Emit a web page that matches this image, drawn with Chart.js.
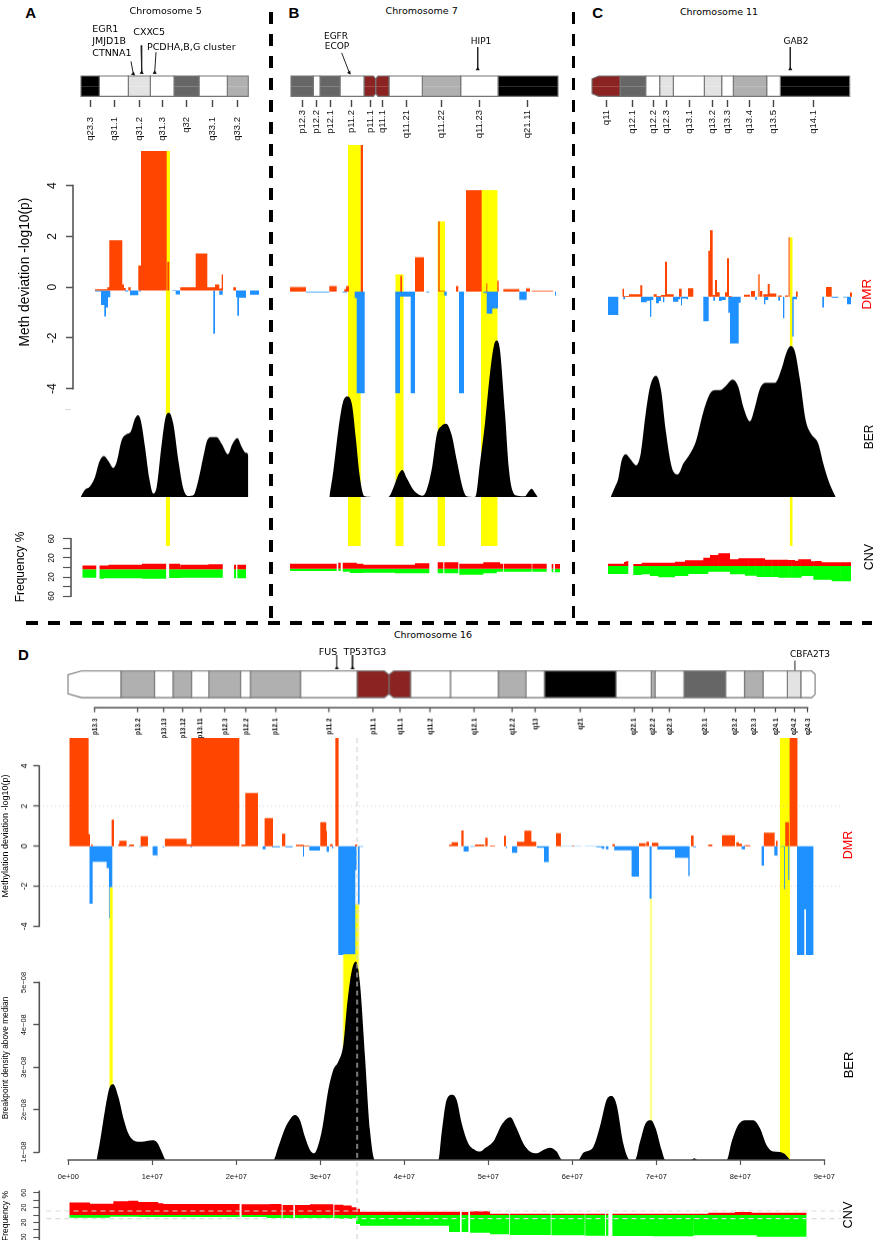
<!DOCTYPE html>
<html><head><meta charset="utf-8"><title>Chromosome panels</title>
<script src="https://cdn.jsdelivr.net/npm/chart.js@4"></script>
<style>
html,body{margin:0;padding:0;background:#fff;width:875px;height:1240px;overflow:hidden}
#page{position:relative;width:875px;height:1240px;overflow:hidden}
canvas{position:absolute;display:block}
.t{position:absolute;white-space:nowrap;line-height:1;color:#000}
.dv{position:absolute;background-repeat:repeat}
</style></head><body><div id="page"></div>
<script>
// ---------- Panel A : chromosome 5 ----------
const bandsA=[[0,18.3,'gpos100'],[18.3,47.3,'gneg'],[47.3,69.3,'gpos25'],[69.3,93,'gneg'],[93,118,'gpos75'],[118,146.3,'gneg'],[146.3,167.3,'gpos50']];
const cytoPosA=[9.3,33.3,58.3,81.3,105.3,131.7,156.3];
const cytoNamesA=['q23.3','q31.1','q31.2','q31.3','q32','q33.1','q33.2'];
const genesA=[[50,2.43,52.3,1.2],[60,4,60.7,1.33],[75,3.33,73.7,1.33]];
const dmrGainA=[[14,26.3,-0.08],[26.3,28.3,0],[28.3,41.3,1.85],[41.3,43,0.1],[43,44.7,-0.03],[47.3,49.7,0],[57.3,60,0.85],[60,85.7,5.37],[86.3,88.3,1],[99.3,114.7,0],[114.7,126.3,1.33],[126.3,134,0],[134,138.3,0.1],[138.3,140.7,-0.05],[140.7,142,0.5],[152.3,155,0]];
const dmrLossA=[[14,20,-0.17],[20,23.3,-0.7],[23.3,25,-1.16],[25,27,-0.8],[27,29.3,-0.4],[44,47.3,-0.17],[49,57.3,-0.32],[58,60,-0.17],[91.3,94.7,-0.15],[94.7,99,-0.29],[132.3,134,-1.84],[138.3,141.7,-0.3],[155,156.3,-0.4],[156.3,158,-1.13],[158,165,-0.42],[169,178,-0.3]];
const hotspotA=[[84.7,89,5.37]];
const berA=[[-0.3,0],[4,7.3],[9,10.7],[14,20],[18.3,35],[23,40.7],[27.3,36],[32.3,29],[35.7,35],[40.7,56.7],[45,62.3],[49.7,65],[54,78],[57,81.7],[59.7,76.7],[64,50],[68.3,18.3],[72.3,3.3],[75.7,10],[80.7,53],[84.7,80],[88,84],[92.3,73],[97.3,36.7],[102.3,8.3],[107.3,1],[112.3,1.7],[117.3,16.7],[122.3,40],[126.3,56.7],[130.7,59.7],[135.7,59.7],[140.7,53],[147,42.7],[151.3,52.7],[156.3,58.7],[160.7,50],[165,44],[167.3,41.7],[167.31,0]];
const cnvGainA=[[1,15,4.2],[18.3,27.3,4.2],[27.3,44,5.6],[44,60.7,6],[60.7,85,7.7],[88,99,7.7],[99.7,127.3,5.6],[127.3,141.7,7],[153,155,5.6],[156.3,165,5.6]];
const cnvLossA=[[1,15,-21.7],[18.3,23,-23.8],[23,60.7,-22.5],[60.7,85,-23.8],[88,99,-22],[99.7,141.7,-21.7],[153,155,-22.5],[156.3,165,-22.5]];

// ---------- Panel B : chromosome 7 ----------
const bandsB=[[0,22.3,'gpos75'],[22.3,29,'gneg'],[29,49,'gpos75'],[49,73,'gneg'],[73,84.7,'acen','notchR'],[84.7,98,'acen','notchL'],[98,131.3,'gneg'],[131.3,169.7,'gpos50'],[169.7,207,'gneg'],[207,267,'gpos100']];
const cytoPosB=[11.7,25.7,39,60.7,79,91.3,115,150.7,188.3,236.3];
const cytoNamesB=['p12.3','p12.2','p12.1','p11.2','p11.1','q11.1','q11.21','q11.22','q11.23','q21.11'];
const genesB=[[50.7,3.27,58.3,1.33],[186.7,3.83,186.7,1.67]];
const dmrGainB=[[-1,15,0.18],[38.3,45.7,0.22],[53.3,55,0.1],[55,58,0.22],[69.7,72,5.76],[109.3,111,0.62],[124,133,1.35],[147.3,148.7,2.76],[148.7,154,0.03],[165,167.3,0.22],[175,190.7,3.99],[195.3,196.3,0.33],[206.3,207.7,0.42],[212.3,228.3,0.1],[235,239,0.13],[240.7,262.3,0.03]];
const dmrLossB=[[15,38.3,-0.03],[51.3,56,-0.03],[63.7,65.7,-0.26],[65.7,73.7,-4],[104.3,109,-4],[109,119.7,-0.2],[119.7,124,-4],[135,138.3,-0.03],[153.3,155.7,-0.16],[168,173,-4],[192.3,195.7,-0.05],[195.7,201.3,-0.87],[201.3,207,-0.66],[228.3,235.7,-0.33],[264,265,-0.15]];
const hotspotB=[[57,69.7,5.76],[104.5,112.5,0.68],[146.7,154,2.76],[190,206.7,3.99]];
const berB=[[38.3,0],[42.3,25.7],[47.3,67],[51.7,94],[56,100.7],[60.7,94],[65,57],[68.3,24],[71.7,4],[74,0.7],[82.3,0],[97.3,0],[102.3,9],[107.3,22.3],[111.3,27],[115.7,19],[122.3,7.3],[128,2.3],[131.7,1.3],[135.7,7.3],[141.3,30.7],[145.7,62],[150.7,71.3],[155,73.3],[160.7,62],[165.7,37],[171.7,9],[175.7,0.7],[183,0],[184.7,0.7],[189,34],[194,74],[199,124],[203,152],[205.7,156.7],[209,147],[214,84],[218,27],[221.7,5.7],[226.3,1.3],[234,0.7],[237.3,5],[240.7,8.3],[244,4],[246.7,0]];
const cnvGainB=[[-1,45.7,10.5],[47.3,49.7,12.6],[51.7,65.7,12.6],[65.7,72.3,10.5],[72.3,124,8.4],[124,138.3,11.2],[146.7,152.3,13.3],[153.3,167.3,13.3],[168.3,192.3,10.5],[192.3,209,13.3],[209,212.3,10.5],[213,240.7,10.5],[241.3,255.7,10.5],[260.7,262.3,9.8],[264,269,9.8]];
const cnvLossB=[[-1,45.7,-4.9],[47.3,49.7,-4.9],[51.7,59,-6.3],[59,72.3,-9.1],[72.3,104,-8.4],[104,138.3,-9.8],[146.7,152.3,-9.8],[153.3,167.3,-9.8],[168.3,192.3,-12.6],[192.3,205.7,-9.8],[205.7,212.3,-6.3],[213,240.7,-6.3],[241.3,255.7,-6.3],[260.7,262.3,-7.7],[264,269,-7.7]];

// ---------- Panel C : chromosome 11 ----------
const bandsC=[[0,28,'acen','telL'],[28,53.7,'gpos75'],[53.7,67.7,'gneg'],[67.7,81.3,'gpos25'],[81.3,112.3,'gneg'],[112.3,129.7,'gpos25'],[129.7,141.3,'gneg'],[141.3,174.7,'gpos50'],[174.7,188.3,'gneg'],[188.3,257.7,'gpos100']];
const cytoPosC=[14.7,40.7,61,74,97,120.3,135,157.7,181.7,221.7];
const cytoNamesC=['q11','q12.1','q12.2','q12.3','q13.1','q13.2','q13.3','q13.4','q13.5','q14.1'];
const genesC=[[198.3,3.83,198.3,1.67]];
const dmrGainC=[[30.3,32,0.31],[32,37,0.03],[37,48.3,0.1],[48.3,50.3,0.45],[61.7,64.7,0.1],[64.7,69,0.03],[69,73,0.07],[73,75,1.38],[75,81.7,0.1],[87,89.7,0.31],[96,101.3,0.33],[116.3,118,1.81],[118,120.7,2.62],[120.7,123,0.07],[123,125,0.66],[125,127.7,0.18],[133,135,0.18],[135,137,1.51],[137,139.7,0.03],[152,158,0.08],[159,163,0.22],[168,170.3,0.22],[171.3,175.7,0.1],[175.7,177.7,0.5],[177.7,184.3,0.13],[186.3,189.7,0.05],[193,196.3,0.05],[204,205.7,0.2],[234,239.7,0.38],[258,260,0.17]];
const dmrFadedC=[[165.7,168,0.88],[196.3,198.3,2.34]];
const dmrLossC=[[16,26.3,-0.72],[31.3,33,-0.1],[49,54.7,-0.22],[54.7,58,-0.16],[58,59.3,-0.79],[59.3,61.3,-0.13],[64,67,-0.26],[67,69,-0.17],[71,72.3,-0.22],[81,86.3,-0.2],[86.3,88.3,-0.1],[89,90,-0.35],[90,94.7,-0.07],[94.7,96,-0.1],[111.3,116.7,-0.97],[121.3,123,-0.16],[127,129.7,-0.17],[129.7,133.7,-0.13],[136.3,138,-0.63],[138,146.7,-1.84],[146.7,148.7,-0.24],[163.3,164.7,-0.13],[172,173.3,-0.3],[173.3,176.3,-0.13],[186.3,188,-0.16],[191,192.3,-0.85],[200.3,201.7,-1.57],[201.7,205,-0.1],[230.3,232,-0.43],[239.7,246.3,-0.04],[251.3,254.7,-0.03],[255,259,-0.3]];
const hotspotC=[[197.7,200.7,2.34]];
const berC=[[18.7,0],[23,10],[26.3,18.3],[29.7,36.7],[34,42.7],[38,38.3],[44,31.7],[48.7,43.3],[53.7,83.3],[58,110],[64,121],[69,106.7],[73.7,66.7],[79.7,30],[86,22.7],[91.3,33.3],[98,43.3],[103.7,55],[111.3,85],[118,103.3],[123,106.7],[128,106.7],[133,110],[140.7,117.3],[146.3,110],[151.3,90],[158,75.7],[163,90],[168,108.3],[173.7,114],[183,114],[189.7,128.3],[194.7,145],[198.7,150.7],[203,145],[208,116.7],[213.7,76.7],[219,63.3],[226.3,53.3],[231.3,33.3],[236.3,16.7],[239.7,8.3],[243.7,0]];
const cnvGainC=[[16,32,4.9],[32,33.7,8.4],[33.7,36.3,9.8],[41.3,49.7,4.2],[49.7,71.3,7],[71.3,83,7],[83,93,9],[93,111.3,12],[111.3,118,17.5],[118,126.3,23],[126.3,138,26.6],[138,146.3,14],[146.3,173,16],[173,196.3,13.3],[196.3,203,12.6],[203,206.3,11.2],[206.3,219,14],[219,223,9.8],[223,229.7,10.5],[229.7,259,7.7]];
const cnvLossC=[[16,36.3,-16.8],[41.3,49.7,-18.9],[49.7,58,-17.5],[58,66.3,-21],[66.3,83,-23.8],[83,96.3,-21],[96.3,116.3,-16.8],[116.3,138,-11.9],[138,153,-17.5],[153,164.7,-20.3],[164.7,186.3,-23],[186.3,209.7,-24.5],[209.7,221.3,-21],[221.3,239.7,-28.7],[239.7,259,-32.2]];
const cnvBreaksC=[126.3,156.3,163,171.3,179.7,186.3,196.3,199.7,208,221.3,248];

// ---------- Panel D : chromosome 16 (x in Mb) ----------
const bandsD=[[0,6.3,'gneg','telL'],[6.3,10.3,'gpos50'],[10.3,12.5,'gneg'],[12.5,14.7,'gpos50'],[14.7,16.75,'gneg'],[16.75,20.55,'gpos50'],[20.55,21.7,'gneg'],[21.7,27.66,'gpos50'],[27.66,34.4,'gneg'],[34.4,38.2,'acen','notchR'],[38.2,40.75,'acen','notchL'],[40.75,45.5,'gneg'],[45.5,51.2,'gneg'],[51.2,54.5,'gpos50'],[54.5,56.7,'gneg'],[56.7,65.2,'gpos100'],[65.2,69.4,'gneg'],[69.4,69.85,'gpos50'],[69.85,73.3,'gneg'],[73.3,78.25,'gpos75'],[78.25,80.5,'gneg'],[80.5,82.7,'gpos50'],[82.7,85.6,'gneg'],[85.6,87.2,'gpos25'],[87.2,88.9,'gneg','telR']];
const cytoPosD=[3.17,8.33,11.43,13.65,15.75,18.65,21.15,24.68,31.03,36.31,39.48,43.1,48.33,52.86,55.6,60.95,67.34,69.56,71.55,75.71,79.37,81.63,84.17,86.39,88];
const cytoNamesD=['p13.3','p13.2','p13.13','p13.12','p13.11','p12.3','p12.2','p12.1','p11.2','p11.1','q11.1','q11.2','q12.1','q12.2','q13','q21','q22.1','q22.2','q22.3','q23.1','q23.2','q23.3','q24.1','q24.2','q24.3'];
const genesD=[[31.99,2.19,31.99,1.22],[33.86,2.19,33.86,1.22]];
const geneTickD=[[86.5,1.77,86.5,1.03]];
const dmrGainD=[[0.12,2.42,5.4],[2.42,2.58,0.6],[2.74,2.9,0.1],[5.16,5.44,1.33],[5.95,6.07,0.1],[6.07,6.94,0.27],[7.26,7.82,0.08],[8.61,9.48,0.5],[11.5,14.09,0.37],[14.09,14.64,0.1],[14.64,20.36,5.4],[20.6,21.07,0.08],[21.07,22.58,2.65],[23.37,24.37,1.4],[25.44,25.83,0.62],[27.1,28.06,0.07],[28.06,28.7,0.03],[30,30.71,1.2],[30.71,30.8,0.75],[31.15,31.47,0.1],[31.79,32.18,5.4],[34.13,34.4,0.08],[45.32,45.63,0.07],[45.63,46.39,0.2],[46.79,47.06,0.78],[48.41,49.52,0.08],[49.64,49.92,0.42],[50.2,50.8,0.03],[51.87,52.1,0.52],[53.41,54.29,0.22],[54.29,55.13,0.77],[55.13,55.71,0.22],[58.06,58.65,0.65],[60,60.2,0.03],[64.76,65.08,0.1],[67.94,68.73,0.15],[68.81,69.13,0.22],[69.48,70.24,0.17],[74.13,74.44,0.53],[76.19,76.67,0.08],[77.82,79.37,0.55],[79.52,79.84,0.2],[79.84,80.2,0.12],[80.5,81.2,0.05],[82.8,84.09,0.67],[84.25,84.44,0.27],[85.35,85.79,1.2],[85.87,86.83,5.4]];
const dmrLossD=[[2.5,2.9,-2.87],[2.9,4.56,-0.78],[4.56,4.84,-1.1],[4.84,4.92,-3.6],[4.92,5.24,-2.05],[7.06,7.34,-0.03],[8.4,8.9,-0.03],[10.04,10.6,-0.45],[10.6,10.67,-0.67],[11.23,11.39,-0.05],[14.56,14.72,-0.05],[23.13,23.49,-0.15],[24.25,25.2,-0.05],[25.83,26.7,-0.05],[27.94,28.06,-0.52],[28.69,29.96,-0.22],[30.75,31.03,-0.28],[31.4,31.55,-0.1],[32.14,32.74,-5.43],[32.74,34.17,-5.4],[34.17,34.33,-1.2],[34.48,34.68,-2.9],[34.68,35.1,-0.03],[47.06,47.66,-0.27],[47.83,48.41,-0.03],[52.1,52.2,-0.1],[52.82,53.45,-0.33],[55.79,56.63,-0.08],[56.63,57.2,-0.8],[58.65,61.1,-0.02],[61.5,62.86,-0.02],[62.86,63.49,-0.05],[63.49,63.81,-0.13],[64,64.3,-0.15],[64.99,67.06,-0.2],[67.06,67.94,-1.52],[69.2,69.44,-2.62],[70.12,70.71,-0.17],[70.71,72.22,-0.17],[72.22,73.81,-0.58],[73.81,73.97,-1.5],[74.4,74.72,-0.05],[80.16,80.56,-0.15],[82.54,82.82,-0.97],[84.05,84.4,-0.47],[84.4,84.48,-0.65],[84.72,85.2,-0.03],[85.2,85.3,-2.15],[85.71,85.83,-1.68],[86.75,87.62,-5.43],[87.62,87.82,-3.15],[87.82,88.73,-5.43]];
const hotspotD=[[4.92,5.32,-2.05],[32.74,34.6,-2.9],[84.72,85.91,5.4]];
const hotspotFadedD=[[69.25,69.49,-2.62]];
const berD=[[3.37,0.81],[3.77,1.24],[4.37,1.99],[4.88,2.5],[5.36,2.6],[5.95,2.31],[6.63,1.75],[7.14,1.44],[7.74,1.28],[8.73,1.24],[9.33,1.26],[10.04,1.28],[10.6,1.22],[11.11,1.01],[11.63,0.81],[24.4,0.81],[25,1.12],[25.8,1.56],[26.47,1.79],[26.98,1.87],[27.58,1.75],[28.17,1.36],[28.77,1.05],[29.25,0.97],[29.64,1.09],[30.28,1.6],[30.95,2.46],[31.55,2.94],[32.14,3.13],[32.74,3.53],[33.21,4.51],[33.73,5.26],[34.25,5.49],[34.72,4.98],[35.32,3.25],[35.91,1.52],[36.5,0.81],[43.93,0.81],[44.05,0.81],[44.44,1.44],[45.04,2.23],[45.71,2.35],[46.23,2.23],[46.83,1.68],[47.62,1.2],[48.41,1.05],[49,1.01],[49.6,1.09],[50.71,1.28],[51.59,1.64],[52.62,1.82],[53.37,1.56],[54.17,1.2],[54.96,1.01],[55.75,0.97],[56.55,1.05],[57.35,1.1],[58.13,1.01],[58.81,0.81],[60.71,0.81],[61.31,0.98],[62.5,1.12],[63.29,1.6],[64.09,2.23],[64.68,2.32],[65.28,2.11],[66.07,1.2],[66.87,0.81],[67.46,0.81],[68.06,1.24],[68.73,1.68],[69.37,1.75],[69.92,1.56],[70.63,1.05],[71.1,0.81],[74.13,0.81],[74.52,0.85],[74.92,0.81],[78.37,0.81],[78.97,1.24],[79.76,1.64],[80.56,1.75],[81.55,1.75],[82.34,1.56],[83.13,1.16],[83.93,1.01],[84.72,1],[85.3,0.95],[85.91,0.81]];
const cnvGainD=[[0.12,2.58,34],[2.58,5.36,30.6],[5.36,7.14,37],[7.14,8.33,38.7],[8.33,10.71,35],[10.71,11.31,31.5],[11.31,20.63,29.7],[20.63,24,28.8],[24,25.4,29.7],[25.4,28.77,27],[28.77,31.55,28.8],[31.55,32.74,27.9],[32.74,33.73,26],[33.73,34.33,20.7],[34.33,34.72,17],[34.72,46.63,8.5],[46.63,47.62,8],[47.62,50.2,10],[50.2,76.19,3.6],[76.19,79.37,6.3],[79.37,81.35,8],[81.35,87.9,6.3]];
const cnvLossD=[[0.12,4.96,-7.2],[4.96,8.41,-4.5],[8.41,23.61,-5.4],[23.61,31.55,-8.1],[31.55,34.25,-9.9],[34.25,34.72,-24.3],[34.72,45.32,-28.8],[45.32,47.83,-46],[47.83,50.2,-47.7],[50.2,52.58,-52],[52.58,57.54,-54],[57.54,61.55,-55],[61.55,64.8,-56],[64.8,69.6,-56.7],[69.6,74.48,-57.6],[74.48,81.96,-55],[81.96,87.9,-58.5]];
const cnvGapsD=[[20.36,20.63],[25.4,25.52],[26.79,26.98],[31.55,31.67],[46.63,46.83],[47.62,47.83],[63.89,64],[64.29,64.8]];
const cnvThinGapsD=[[5.36,5.44],[8.33,8.41],[52.46,52.58],[57.43,57.54],[61.47,61.55],[69.52,69.6],[74.4,74.48]];
const axisTicksDmr=[4,2,0,-2,-4];
const axisTicksCnv=[60,40,20,0,-20,-40,-60];
const axisTicksBerD=[1,2,3,4,5];
const axisTicksMb=[0,10,20,30,40,50,60,70,80,90];
const breakpointGuideMb=[34.4];
const significanceLines=[2,-2];
const cnvGuideLines=[10.8,-9.9];

// ---------- helpers ----------
const SANS='"Liberation Sans",Arial,sans-serif', DV='"DejaVu Sans",sans-serif';
const RED='#FF4500',BLUE='#1E90FF',YEL='#FFFF00',AXC='#555';
const STAIN={gneg:'#ffffff',gpos25:'#e3e3e3',gpos50:'#b0b0b0',gpos75:'#666666',gpos100:'#000000',acen:'#8B2323'};
Chart.defaults.animation=false;
const page=document.getElementById('page');

const steps=(segs,base)=>{const p=[];segs.forEach(([a,b,v])=>{p.push({x:a,y:base},{x:a,y:v},{x:b,y:v},{x:b,y:base});});return p;};
const curve=a=>a.map(([x,y])=>({x,y}));
const area=(pts,color,fill)=>({data:pts,backgroundColor:color,borderColor:'transparent',borderWidth:0,pointRadius:0,fill,tension:0});

function chart(o){
  const ml=o.ml||0,mr=o.mr||0,mt=o.mt||0,mb=o.mb||0;
  const c=document.createElement('canvas');
  const W=Math.round((o.r-o.l+ml+mr)*100)/100,H=Math.round((o.b-o.t+mt+mb)*100)/100;
  c.width=W;c.height=H;c.style.width=W+'px';c.style.height=H+'px';
  c.style.left=(o.l-ml)+'px';c.style.top=(o.t-mt)+'px';
  page.appendChild(c);
  const xmin=(o.l-o.ox)/o.kx,xmax=(o.r-o.ox)/o.kx,ymax=(o.oy-o.t)/o.ky,ymin=(o.oy-o.b)/o.ky;
  const ds=(o.ds||(()=>[]))(xmin,xmax,ymin,ymax);
  if(o.ySpine) ds.unshift({data:[{x:xmin,y:o.ySpine[0]},{x:xmin,y:o.ySpine[1]}],borderColor:AXC,borderWidth:o.spineW||1.6,pointRadius:0,fill:false,clip:false,borderCapStyle:'square'});
  if(o.xSpine) ds.unshift({data:[{x:o.xSpine[0],y:ymin},{x:o.xSpine[1],y:ymin}],borderColor:AXC,borderWidth:o.spineW||1.6,pointRadius:0,fill:false,clip:false,borderCapStyle:'square'});
  const scales={
    x:{type:'linear',min:xmin,max:xmax,display:false},
    y:{type:'linear',min:ymin,max:ymax,display:false}
  };
  if(o.xAxis){const a=o.xAxis;scales.x={type:'linear',min:xmin,max:xmax,position:'bottom',display:true,
    border:{display:false},
    grid:{drawOnChartArea:false,drawTicks:true,tickLength:a.len,tickColor:a.color||AXC,tickWidth:a.w||1.3},
    ticks:{autoSkip:false,maxRotation:a.rot||0,minRotation:a.rot||0,padding:a.pad,labelOffset:a.off||0,color:a.tc||'#111',
      font:{family:SANS,size:a.size,weight:a.weight||'normal'},callback:a.fmt},
    afterBuildTicks:s=>{s.ticks=a.at.map(v=>({value:v}));},
    afterFit:s=>{s.height=mb;s.paddingLeft=s.paddingRight=s.paddingTop=s.paddingBottom=0;}};}
  if(o.yAxis){const a=o.yAxis;scales.y={type:'linear',min:ymin,max:ymax,position:'left',display:true,
    border:{display:false},
    grid:{drawOnChartArea:false,drawTicks:true,tickLength:a.len,tickColor:a.color||AXC,tickWidth:a.w||1.3},
    ticks:{autoSkip:false,maxRotation:90,minRotation:90,crossAlign:'center',padding:a.pad,color:'#111',
      font:{family:SANS,size:a.size,weight:a.weight||'normal'},callback:a.fmt},
    afterBuildTicks:s=>{s.ticks=a.at.map(v=>({value:v}));},
    afterFit:s=>{s.width=ml;s.paddingLeft=s.paddingRight=s.paddingTop=s.paddingBottom=0;}};}
  new Chart(c,{type:'line',data:{datasets:ds},options:{responsive:false,maintainAspectRatio:false,animation:false,events:[],
    devicePixelRatio:1,
    layout:{autoPadding:false,padding:{left:o.yAxis?0:ml,right:mr,top:mt,bottom:o.xAxis?0:mb}},
    plugins:{legend:{display:false},tooltip:{enabled:false},title:{display:false}},
    scales}});
}

function ideogramSets(bands,arrows,kx,ky,chamfer){
  const sets=[];
  (arrows.heads||[]).forEach(([x0,y0,x1,y1])=>{
    const rot=Math.atan2((x1-x0)*kx,(y0-y1)*ky)*180/Math.PI;
    sets.push({data:[{x:x0,y:y0},{x:x1,y:y1}],borderColor:'#222',borderWidth:1,pointRadius:[0,2.4],pointStyle:'triangle',pointRotation:rot,pointBackgroundColor:'#111',pointBorderWidth:0,fill:false});
  });
  (arrows.plain||[]).forEach(([x0,y0,x1,y1])=>{
    sets.push({data:[{x:x0,y:y0},{x:x1,y:y1}],borderColor:'#444',borderWidth:1.2,pointRadius:0,fill:false});
  });
  bands.forEach(([a,b,stain,shape])=>{
    [1,-1].forEach(s=>{
      let top;
      if(shape==='telL') top=[[a,0],[a,0.72*s],[a+chamfer,s],[b,s],[b,0]];
      else if(shape==='telR') top=[[a,0],[a,s],[b-chamfer/4,s],[b,0.75*s],[b,0]];
      else if(shape==='notchR') top=[[a,0],[a,s],[b-chamfer/3,s],[b,0.72*s],[b,0]];
      else if(shape==='notchL') top=[[a,0],[a,0.72*s],[a+chamfer/3,s],[b,s],[b,0]];
      else top=[[a,0],[a,s],[b,s],[b,0]];
      sets.push({data:top.map(([x,y])=>({x,y})),backgroundColor:STAIN[stain],borderColor:'#777',borderWidth:1.1,pointRadius:0,fill:'origin',tension:0});
    });
  });
  return sets;
}
const cytoAxis=(pos,names,pad,size,off,extra)=>Object.assign({at:pos,len:7,rot:90,pad,size,off,color:'#444',w:1.4,tc:'#111',
  fmt:v=>names[pos.indexOf(v)]},extra||{});

function topPanel(p){
  // highlighted region, drawn behind everything else
  chart({l:p.l,r:p.r,t:p.yt,b:545.7,ox:p.ox,kx:1,oy:p.oy,ky:25.4,
    ds:(a,b,ymin)=>[area(steps(p.hot,ymin),YEL,'start')]});
  // breakpoint density
  chart({l:p.berL||p.l,r:p.r,t:p.berT||400,b:p.berB,ox:p.ox,kx:1,oy:p.berB,ky:1,ml:p.berAxis?10:0,
    yAxis:p.berAxis,
    ds:()=>[Object.assign(area(curve(p.ber),'#000','start'),{cubicInterpolationMode:'monotone'})]});
  // methylation deviation
  chart({l:p.l,r:p.r,t:p.yt,b:p.yb,ox:p.ox,kx:1,oy:p.oy,ky:25.4,ml:p.dmrAxis?73:0,mb:p.dmrAxis?12:0,yAxis:p.dmrAxis,ySpine:p.dmrAxis?[-4,4]:null,
    ds:()=>{const s=[];if(p.faded)s.push(area(steps(p.faded,p.base),'#FF8A4D',{value:p.base}));
      s.push(area(steps(p.gain,p.base),RED,{value:p.base}),area(steps(p.loss,p.base),BLUE,{value:p.base}));return s;}});
  // copy number
  chart({l:p.cnvL||p.l,r:p.r,t:p.ct,b:p.cb,ox:p.ox,kx:1,oy:p.co,ky:0.477,ml:p.cnvAxis?71:0,mt:p.cnvAxis?10:0,mb:p.cnvAxis?10:0,yAxis:p.cnvAxis,ySpine:p.cnvAxis?[-60,60]:null,
    ds:()=>{const s=[];(p.breaks||[]).forEach(x=>s.push(area(steps([[x,x+0.5,60]],-60),'rgba(255,255,255,0.65)','start')));
      s.push(area(steps(p.cgain,p.cbase),'#FF0000',{value:p.cbase}),area(steps(p.closs,p.cbase),'#00FF00',{value:p.cbase}));return s;}});
  // ideogram
  chart({l:p.l,r:p.r,t:44,b:100,ox:p.ox,kx:1,oy:86.2,ky:10.2,mb:45,
    xAxis:cytoAxis(p.cytoPos,p.cytoNames,p.cytoPad,9.5,0),
    ds:()=>ideogramSets(p.bands,{heads:p.genes},1,10.2,6.7)});
}

// ---------- panels ----------
topPanel({l:73,r:262,ox:81,oy:287.3,yt:151,yb:389.3,base:-0.13,hot:hotspotA,gain:dmrGainA,loss:dmrLossA,ber:berA,
  berL:71,berT:409,berB:496.7,
  berAxis:{at:[87.7],len:6,pad:0,size:1,fmt:()=>'',w:1.4},
  dmrAxis:{at:axisTicksDmr,len:7,pad:8,size:12,fmt:v=>String(v),w:1.5},
  cgain:cnvGainA,closs:cnvLossA,cnvL:70.7,ct:538.7,cb:595.7,co:567.2,cbase:-3.5,
  cnvAxis:{at:axisTicksCnv,len:8,pad:7,size:8.5,fmt:v=>(Math.abs(v)===60||Math.abs(v)===20)?String(Math.abs(v)):'',w:1.2},
  bands:bandsA,cytoPos:cytoPosA,cytoNames:cytoNamesA,cytoPad:10,genes:genesA});
topPanel({l:285,r:566,ox:291,oy:291.7,yt:145.3,yb:400,base:0,hot:hotspotB,gain:dmrGainB,loss:dmrLossB,ber:berB,berT:330,berB:497.3,
  cgain:cnvGainB,closs:cnvLossB,ct:550,cb:590,co:568.7,cbase:0,
  bands:bandsB,cytoPos:cytoPosB,cytoNames:cytoNamesB,cytoPad:3,genes:genesB});
topPanel({l:590,r:862,ox:592,oy:296.7,yt:225,yb:360,base:0,hot:hotspotC,gain:dmrGainC,faded:dmrFadedC,loss:dmrLossC,ber:berC,berT:340,berB:496.7,
  cgain:cnvGainC,closs:cnvLossC,ct:545,cb:590,co:566,cbase:0,breaks:cnvBreaksC,
  bands:bandsC,cytoPos:cytoPosC,cytoNames:cytoNamesC,cytoPad:3,genes:genesC});

// Panel D
const D={l:39.3,r:850,ox:68.3,kx:8.4};
chart(Object.assign({},D,{t:738.3,b:1160,oy:846.3,ky:20,
  ds:(a,b,ymin)=>[area(steps(hotspotFadedD,ymin),'#FFFF66','start'),area(steps(hotspotD,ymin),YEL,'start')]}));
chart(Object.assign({},D,{t:958,b:1160,oy:1194.4,ky:42.4,ml:39.3,mb:30,
  yAxis:{at:axisTicksBerD,len:6,pad:-1,size:7.5,fmt:v=>v+'e\u221208',w:1.4},
  xAxis:{at:axisTicksMb,len:5,pad:7,size:7.5,w:1.2,fmt:v=>v===0?'0e+00':(v/10)+'e+07'},
  ySpine:[1,5],xSpine:[0,90],
  ds:()=>[Object.assign(area(curve(berD),'#000','start'),{cubicInterpolationMode:'monotone'})]}));
chart(Object.assign({},D,{t:738.3,b:960,oy:846.3,ky:20,ml:39.3,
  yAxis:{at:axisTicksDmr,len:6,pad:5,size:8.5,fmt:v=>String(v),w:1.4},ySpine:[-4,4],
  ds:(a,b)=>{const s=[area(steps(dmrGainD,0),RED,'origin'),area(steps(dmrLossD,0),BLUE,'origin')];
    significanceLines.forEach(v=>s.push({data:[{x:-3,y:v},{x:92,y:v}],borderColor:'#cfcfcf',borderWidth:1,borderDash:[1,3],pointRadius:0,fill:false}));return s;}}));
chart(Object.assign({},D,{t:1190,b:1240,oy:1215,ky:0.37,ml:39.3,mt:6,
  yAxis:{at:axisTicksCnv,len:6,pad:5,size:7,fmt:v=>(Math.abs(v)===60||Math.abs(v)===20)?String(Math.abs(v)):'',w:1.1},ySpine:[-66,64],
  ds:()=>{const s=[];cnvGuideLines.forEach(v=>s.push({data:[{x:-2.6,y:v},{x:92,y:v}],borderColor:'#dcdcdc',borderWidth:1.1,borderDash:[5,4],pointRadius:0,fill:false}));
    s.push(area(steps(cnvGapsD.map(g=>[g[0],g[1],70]),-70),'#fff','start'));
    s.push(area(steps(cnvThinGapsD.map(g=>[g[0],g[1],70]),-70),'rgba(255,255,255,0.75)','start'));
    s.push(area(steps(cnvGainD,0),'#FF0000','origin'),area(steps(cnvLossD,0),'#00FF00','origin'));return s;}}));
chart(Object.assign({},D,{t:738.3,b:1240,oy:738.3,ky:1,
  ds:()=>breakpointGuideMb.map(x=>({data:[{x,y:0},{x,y:-510}],borderColor:'#d6d6d6',borderWidth:1.2,borderDash:[5,4],pointRadius:0,fill:false}))}));
chart(Object.assign({},D,{t:655,b:707.7,oy:684.3,ky:13.35,mb:30,
  xAxis:cytoAxis(cytoPosD,cytoNamesD,6,6.5,0.5,{len:4.5,w:1.2,weight:'bold'}),xSpine:[3.17,88],
  ds:()=>ideogramSets(bandsD,{heads:genesD,plain:geneTickD},8.4,13.35,1.6)}));

// ---------- text ----------
function label(s,x,y,o){o=o||{};const d=document.createElement('div');d.className='t';d.textContent=s;
  d.style.fontFamily=o.f||DV;d.style.fontSize=(o.s||9.5)+'px';if(o.w)d.style.fontWeight=o.w;if(o.c)d.style.color=o.c;
  d.style.left=x+'px';d.style.top=y+'px';
  d.style.transform=(o.left?'translate(0,-50%)':'translate(-50%,-50%)')+(o.rot?' rotate(-90deg)':'');
  page.appendChild(d);}
[['A',30.7,12],['B',294,12],['C',597.7,12],['D',23.3,654]].forEach(([t,x,y])=>label(t,x,y,{f:SANS,s:15,w:'bold'}));
label('Chromosome 5',165.7,10.5);label('Chromosome 7',421.7,11);label('Chromosome 11',719,11.7);label('Chromosome 16',433,634.5);
[['EGR1',92.3,29.3],['JMJD1B',92.3,40.7],['CTNNA1',92.3,52.7],['CXXC5',133.3,32],['PCDHA,B,G cluster',147,47]].forEach(([t,x,y])=>label(t,x,y,{left:true}));
label('EGFR',336,36,{s:9});label('ECOP',337,45.5,{s:9});label('HIP1',481,40.7,{s:9});label('GAB2',796,40.7,{s:9});
label('FUS',328,651.7,{s:9.5});label('TP53TG3',365,651.7,{s:9.5});label('CBFA2T3',810,654.3,{s:9});
label('Meth deviation -log10(p)',25.3,271.5,{f:SANS,s:13.8,rot:1});
label('Frequency %',20,567,{f:SANS,s:12,rot:1});
label('Methylation deviation -log10(p)',5,835.8,{f:SANS,s:9,rot:1});
label('Breakpoint density above median',5,1057.5,{f:SANS,s:8.3,rot:1});
label('Frequency %',5,1216,{f:SANS,s:8.5,rot:1});
label('DMR',867,294.3,{f:SANS,s:13.5,rot:1,c:'#FF0000'});label('BER',868.7,436.7,{f:SANS,s:12,rot:1});label('CNV',868.7,557.3,{f:SANS,s:12.5,rot:1});
label('DMR',848,845.3,{f:SANS,s:12.5,rot:1,c:'#FF0000'});label('BER',848,1065,{f:SANS,s:13,rot:1});label('CNV',848,1215,{f:SANS,s:12.7,rot:1});

// ---------- dashed panel separators ----------
function dashV(x,y0,y1){const d=document.createElement('div');d.className='dv';d.style.cssText+=`left:${x}px;top:${y0}px;width:3.5px;height:${y1-y0}px;background-image:repeating-linear-gradient(180deg,#000 0,#000 11.7px,transparent 11.7px,transparent 22px)`;page.appendChild(d);}
function dashH(y,x0,x1){const d=document.createElement('div');d.className='dv';d.style.cssText+=`left:${x0}px;top:${y}px;height:3.8px;width:${x1-x0}px;background-image:repeating-linear-gradient(90deg,#000 0,#000 11.7px,transparent 11.7px,transparent 22px)`;page.appendChild(d);}
dashV(269,12.3,618);dashV(571.5,12.3,618);dashH(621,26,872);
</script></body></html>
